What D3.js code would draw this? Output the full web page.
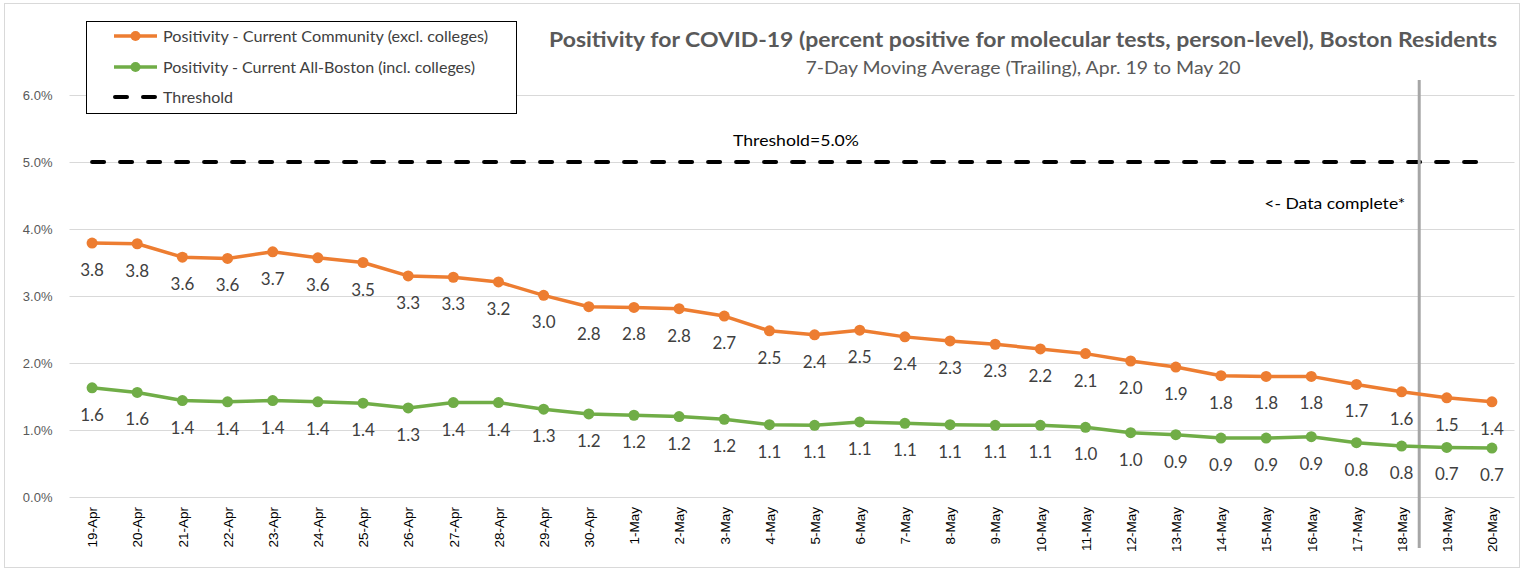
<!DOCTYPE html>
<html>
<head>
<meta charset="utf-8">
<script src="https://cdn.jsdelivr.net/npm/d3@7"></script>
<style>
  body { margin: 0; background: #fff; }
  svg { display: block; }
</style>
</head>
<body>
<div id="viz"></div>
<script>
const dates = ["19-Apr","20-Apr","21-Apr","22-Apr","23-Apr","24-Apr","25-Apr","26-Apr","27-Apr","28-Apr","29-Apr","30-Apr",
  "1-May","2-May","3-May","4-May","5-May","6-May","7-May","8-May","9-May","10-May","11-May","12-May","13-May",
  "14-May","15-May","16-May","17-May","18-May","19-May","20-May"];
const community = [3.79,3.78,3.58,3.56,3.66,3.57,3.50,3.30,3.28,3.21,3.01,2.84,2.83,2.81,2.70,2.48,2.42,2.49,2.39,2.33,
  2.28,2.21,2.14,2.03,1.94,1.81,1.80,1.80,1.68,1.57,1.48,1.42];
const allBoston = [1.63,1.56,1.44,1.42,1.44,1.42,1.40,1.33,1.41,1.41,1.31,1.24,1.22,1.20,1.16,1.08,1.07,1.12,1.10,1.08,
  1.07,1.07,1.04,0.96,0.93,0.88,0.88,0.90,0.81,0.76,0.74,0.73];
const threshold = 5.0;
const yTicks = [0,1,2,3,4,5,6];
const completeAfter = "18-May";

const width = 1524, height = 571;
const margin = { top: 95, right: 9.5, bottom: 74, left: 69.5 };
const orange = "#ed7d31", green = "#70ad47";
const labelFont = "Lato, 'Open Sans', sans-serif";

const svg = d3.select("#viz").append("svg")
  .attr("width", width)
  .attr("height", height);

// chart border
svg.append("rect")
  .attr("x", 4.5).attr("y", 3.5)
  .attr("width", width - 9).attr("height", height - 7)
  .attr("fill", "#fff").attr("stroke", "#d9d9d9");

const x = d3.scalePoint().domain(dates).range([margin.left, width - margin.right]).padding(0.5);
const y = d3.scaleLinear().domain([0, 6]).range([height - margin.bottom, margin.top]);

// gridlines + y labels
const yAxis = svg.append("g")
  .attr("transform", `translate(${margin.left},0)`)
  .call(d3.axisLeft(y).tickValues(yTicks).tickSize(-(width - margin.left - margin.right))
    .tickPadding(17).tickFormat(d => d3.format(".1f")(d) + "%"));
yAxis.select(".domain").remove();
yAxis.selectAll("line").attr("stroke", "#d9d9d9");
yAxis.selectAll("text").attr("fill", "#595959").attr("font-size", 13)
  .attr("font-family", "'Liberation Sans', Arial, sans-serif");

// x labels
const xAxis = svg.append("g")
  .attr("transform", `translate(0,${height - margin.bottom})`)
  .call(d3.axisBottom(x).tickSize(0).tickPadding(0));
xAxis.select(".domain").remove();
xAxis.selectAll("text")
  .attr("transform", "rotate(-90)")
  .attr("text-anchor", "end")
  .attr("dy", "0.35em")
  .attr("x", -10)
  .attr("y", 0)
  .attr("fill", "#000")
  .attr("font-size", 13.5)
  .attr("font-family", "'Liberation Sans', Arial, sans-serif");

// threshold line
svg.append("line")
  .attr("x1", x(dates[0])).attr("x2", x(dates[dates.length - 1]))
  .attr("y1", y(threshold)).attr("y2", y(threshold))
  .attr("stroke", "#000").attr("stroke-width", 4)
  .attr("stroke-dasharray", "12,16").attr("stroke-linecap", "round");

svg.append("text")
  .attr("x", 796).attr("y", y(threshold) - 16)
  .attr("text-anchor", "middle")
  .attr("font-family", labelFont).attr("font-size", 16).attr("fill", "#000")
  .attr("textLength", 126).attr("lengthAdjust", "spacingAndGlyphs")
  .text("Threshold=5.0%");

// data complete marker
const xc = x(completeAfter) + 0.39 * x.step();
svg.append("line")
  .attr("x1", xc).attr("x2", xc)
  .attr("y1", 80).attr("y2", 548)
  .attr("stroke", "#a6a6a6").attr("stroke-width", 3);
svg.append("text")
  .attr("x", xc - 14).attr("y", 209)
  .attr("text-anchor", "end")
  .attr("font-family", labelFont).attr("font-size", 16).attr("fill", "#000")
  .attr("textLength", 141).attr("lengthAdjust", "spacingAndGlyphs")
  .text("<- Data complete*");

// series
const line = d3.line().x((d, i) => x(dates[i])).y(d => y(d));

function drawSeries(values, color) {
  svg.append("path")
    .datum(values)
    .attr("d", line)
    .attr("fill", "none")
    .attr("stroke", color)
    .attr("stroke-width", 3.5)
    .attr("stroke-linejoin", "round");

  svg.append("g").selectAll("circle")
    .data(values)
    .enter().append("circle")
    .attr("cx", (d, i) => x(dates[i]))
    .attr("cy", d => y(d))
    .attr("r", 5.5)
    .attr("fill", color);

  svg.append("g").selectAll("text")
    .data(values)
    .enter().append("text")
    .attr("x", (d, i) => x(dates[i]))
    .attr("y", d => y(d) + 33)
    .attr("text-anchor", "middle")
    .attr("font-family", labelFont)
    .attr("font-size", 17)
    .attr("fill", "#404040")
    .text(d => d3.format(".1f")(d));
}

drawSeries(community, orange);
drawSeries(allBoston, green);

// title
svg.append("text")
  .attr("x", 1023).attr("y", 47)
  .attr("text-anchor", "middle")
  .attr("font-family", labelFont).attr("font-weight", "bold")
  .attr("font-size", 21).attr("fill", "#595959")
  .attr("textLength", 948).attr("lengthAdjust", "spacingAndGlyphs")
  .text("Positivity for COVID-19 (percent positive for molecular tests, person-level), Boston Residents");
svg.append("text")
  .attr("x", 1023).attr("y", 74)
  .attr("text-anchor", "middle")
  .attr("font-family", labelFont)
  .attr("font-size", 17).attr("fill", "#595959")
  .attr("textLength", 435).attr("lengthAdjust", "spacingAndGlyphs")
  .text("7-Day Moving Average (Trailing), Apr. 19 to May 20");

// legend
const legend = svg.append("g");
legend.append("rect")
  .attr("x", 86.5).attr("y", 21.5)
  .attr("width", 430).attr("height", 92)
  .attr("fill", "#fff").attr("stroke", "#000").attr("stroke-width", 1);

const legendItems = [
  { label: "Positivity - Current Community (excl. colleges)", color: orange, type: "marker", len: 325 },
  { label: "Positivity - Current All-Boston (incl. colleges)", color: green, type: "marker", len: 312 },
  { label: "Threshold", color: "#000", type: "dash", len: 70 }
];
const legendY = [36, 67, 97];

legendItems.forEach((item, i) => {
  const ly = legendY[i];
  if (item.type === "marker") {
    legend.append("line")
      .attr("x1", 114).attr("x2", 157).attr("y1", ly).attr("y2", ly)
      .attr("stroke", item.color).attr("stroke-width", 3.5);
    legend.append("circle")
      .attr("cx", 135.5).attr("cy", ly).attr("r", 5)
      .attr("fill", item.color);
  } else {
    legend.append("line")
      .attr("x1", 115).attr("x2", 155).attr("y1", ly).attr("y2", ly)
      .attr("stroke", "#000").attr("stroke-width", 4)
      .attr("stroke-dasharray", "12,16").attr("stroke-linecap", "round");
  }
  legend.append("text")
    .attr("x", 163).attr("y", ly + 5.5)
    .attr("font-family", labelFont).attr("font-size", 16).attr("fill", "#404040")
    .attr("textLength", item.len).attr("lengthAdjust", "spacingAndGlyphs")
    .text(item.label);
});
</script>
</body>
</html>
